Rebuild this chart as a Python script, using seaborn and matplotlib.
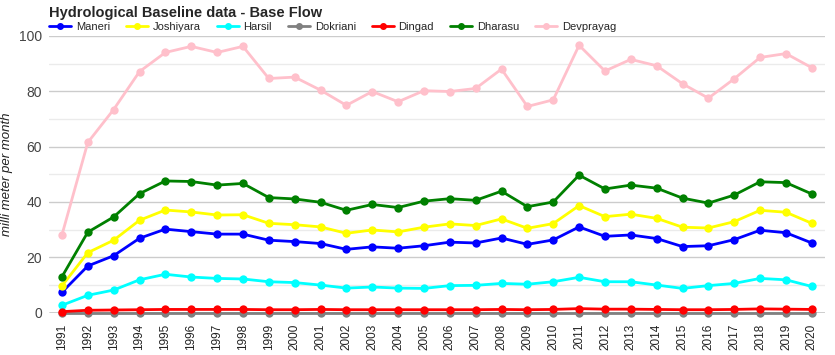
import numpy as np
import matplotlib
matplotlib.use("Agg")
import matplotlib.pyplot as plt
import seaborn as sns
import pandas as pd

# Data
years = list(range(1991, 2021))
maneri = [7.4, 16.9, 20.6, 26.9, 30.2, 29.3, 28.4, 28.4, 26.2, 25.7,
          25.0, 22.9, 23.8, 23.3, 24.2, 25.5, 25.2, 27.0, 24.7, 26.3,
          31.0, 27.6, 28.1, 26.8, 23.9, 24.2, 26.4, 29.8, 28.9, 25.2]
joshiyara = [9.7, 21.7, 26.2, 33.4, 37.1, 36.4, 35.3, 35.4, 32.3, 31.8,
             31.0, 28.7, 29.9, 29.2, 30.9, 32.1, 31.5, 33.9, 30.5, 32.2,
             38.7, 34.7, 35.6, 34.1, 30.9, 30.6, 32.9, 37.0, 36.3, 32.3]
harsil = [2.7, 6.3, 8.2, 11.9, 13.9, 12.9, 12.4, 12.2, 11.2, 10.9,
          10.0, 8.9, 9.3, 8.9, 8.8, 9.8, 9.9, 10.6, 10.3, 11.2,
          12.8, 11.2, 11.2, 10.0, 8.8, 9.8, 10.6, 12.4, 11.9, 9.5]
dokriani = [0.0] * 30
dingad = [0.4, 0.9, 1.0, 1.1, 1.2, 1.2, 1.2, 1.2, 1.1, 1.1,
          1.2, 1.1, 1.1, 1.1, 1.1, 1.1, 1.1, 1.2, 1.1, 1.2,
          1.5, 1.3, 1.3, 1.2, 1.1, 1.1, 1.2, 1.4, 1.3, 1.2]
dharasu = [13.0, 29.1, 34.6, 43.0, 47.6, 47.4, 46.1, 46.7, 41.6, 41.1,
           39.9, 37.0, 39.1, 38.0, 40.3, 41.2, 40.6, 43.9, 38.3, 40.0,
           49.7, 44.7, 46.1, 45.0, 41.4, 39.6, 42.5, 47.3, 47.0, 42.9]
devprayag = [28.1, 61.5, 73.4, 87.1, 94.0, 96.2, 94.0, 96.2, 84.6, 85.1,
             80.4, 74.9, 79.9, 76.2, 80.2, 79.9, 81.0, 88.0, 74.5, 76.9,
             96.6, 87.3, 91.5, 89.2, 82.7, 77.5, 84.5, 92.2, 93.6, 88.5]

stations = ["Maneri", "Joshiyara", "Harsil", "Dokriani", "Dingad", "Dharasu", "Devprayag"]
series = [maneri, joshiyara, harsil, dokriani, dingad, dharasu, devprayag]
colors = ["#0000ff", "#ffff00", "#00ffff", "#808080", "#ff0000", "#008000", "#ffc0cb"]

df = pd.DataFrame({
    "year": years * len(stations),
    "value": [v for s in series for v in s],
    "station": [name for name in stations for _ in years],
})

sns.set_style("white")
plt.rcParams["font.family"] = ["Liberation Sans", "DejaVu Sans"]

fig = plt.figure(figsize=(8.35, 3.55), dpi=100)
ax = fig.add_axes([0.0587, 0.119, 0.929, 0.780])

sns.lineplot(data=df, x="year", y="value", hue="station", hue_order=stations,
             palette=colors, marker="o", markersize=6, markeredgewidth=0,
             linewidth=2, ax=ax, legend=False)
for ln in ax.lines:
    ln.set_clip_on(False)

ax.set_xlim(1990.5, 2020.5)
ax.set_ylim(0, 100)
ax.set_yticks([0, 20, 40, 60, 80, 100])
ax.set_yticks([10, 30, 50, 70, 90], minor=True)
ax.set_xticks(years)
ax.set_xticklabels([str(y) for y in years], rotation=90, fontsize=8.5, color="#222222")
ax.tick_params(axis="y", labelsize=10, colors="#444444", length=0, pad=5)
ax.tick_params(axis="x", length=0, pad=8)
ax.tick_params(which="minor", length=0)
ax.grid(True, axis="y", which="major", color="#cccccc", linewidth=1)
ax.grid(True, axis="y", which="minor", color="#ebebeb", linewidth=1)
ax.set_axisbelow(True)
ax.axhline(0, color="#333333", linewidth=1, zorder=1)
for sp in ax.spines.values():
    sp.set_visible(False)

ax.set_xlabel("")
ax.set_ylabel("milli meter per month", fontsize=9.5, style="italic", color="#222222")
ax.yaxis.set_label_coords(-0.047, 0.5)

fig.text(0.0587, 0.962, "Hydrological Baseline data - Base Flow", fontsize=10.5,
         fontweight="bold", va="center", ha="left")

handles = [plt.Line2D([], [], color=c, linewidth=2, marker="o", markersize=4)
           for c in colors]
fig.legend(handles, stations, loc="center left", bbox_to_anchor=(0.0587, 0.924),
           ncol=7, frameon=False, fontsize=8, handlelength=2.0,
           handletextpad=0.4, columnspacing=1.45, borderaxespad=0, borderpad=0)

fig.savefig("out.png", dpi=100)
